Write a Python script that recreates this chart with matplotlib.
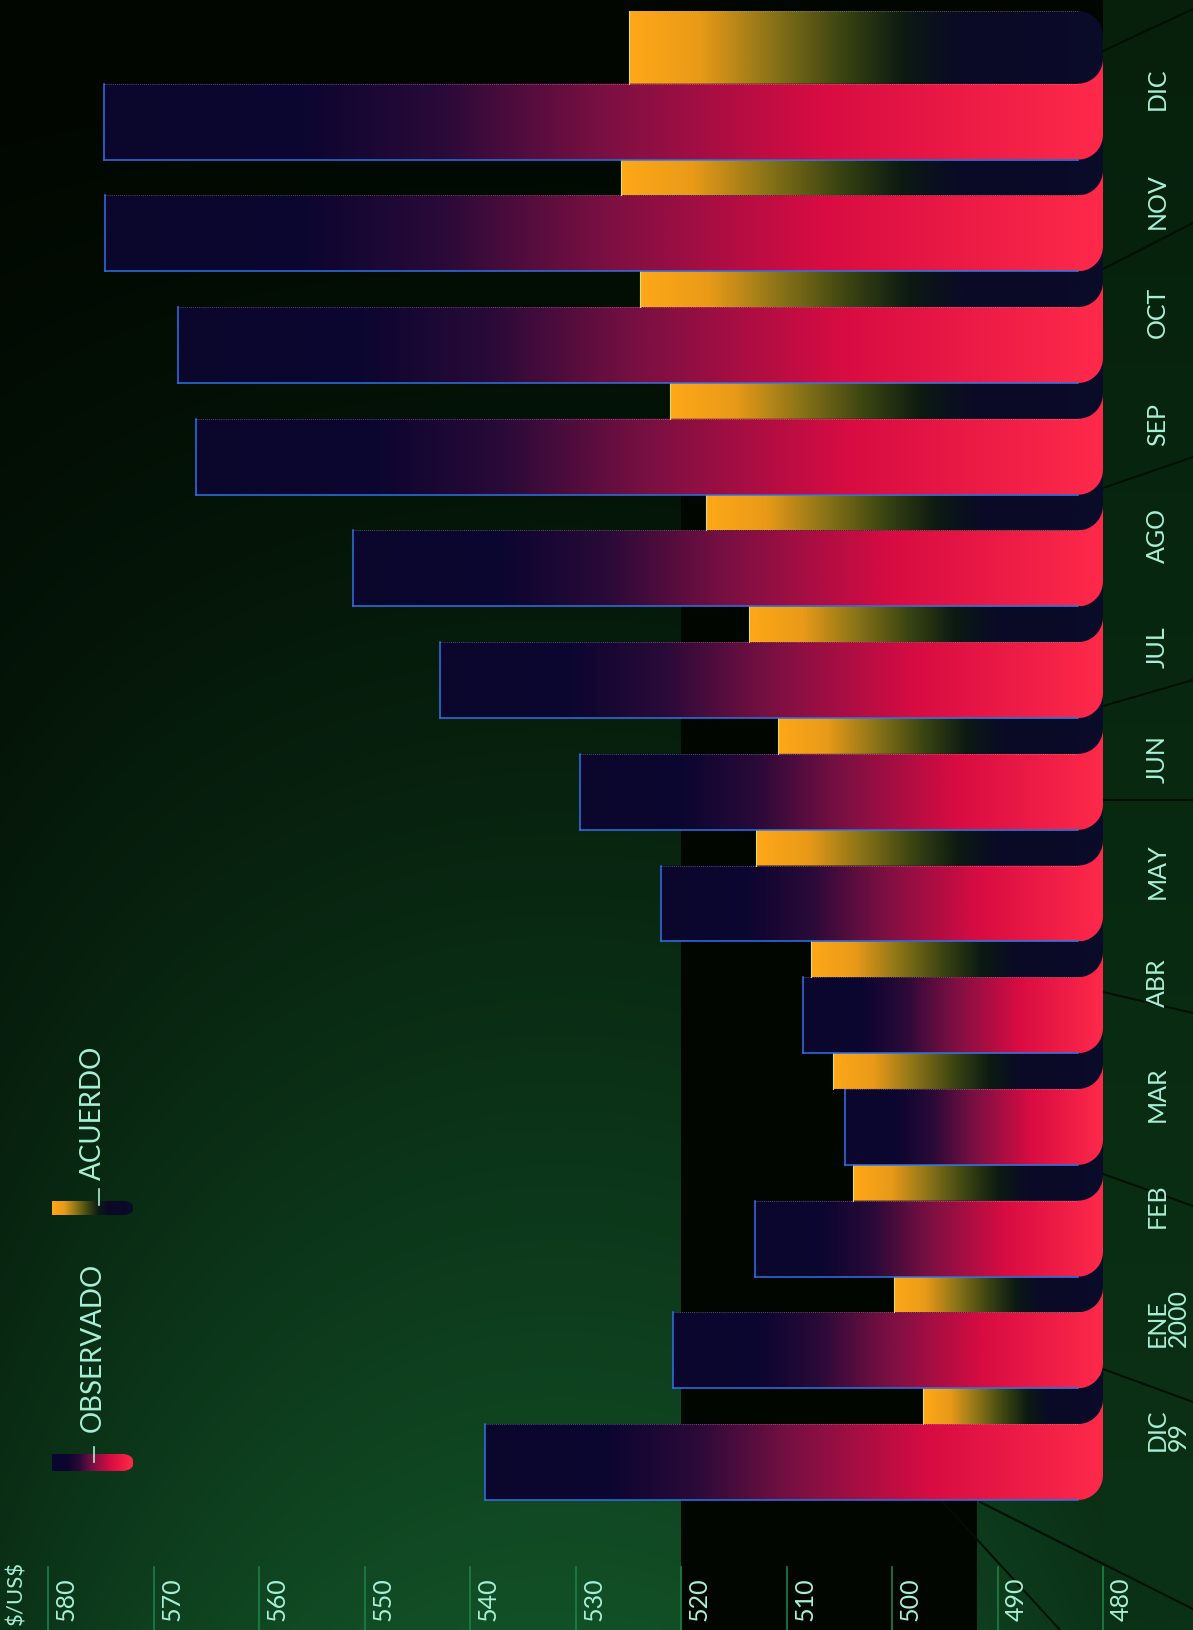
import numpy as np
import matplotlib.pyplot as plt
from matplotlib.colors import LinearSegmentedColormap, to_rgb
from matplotlib.patches import Polygon, Rectangle

# data (chart is printed rotated: values run right-to-left, months bottom-to-top)
months = ["DIC\n99", "ENE\n2000", "FEB", "MAR", "ABR", "MAY", "JUN",
          "JUL", "AGO", "SEP", "OCT", "NOV", "DIC"]
observado = [538.6, 520.8, 513.0, 504.5, 508.4, 521.9, 529.6,
             542.8, 551.1, 566.0, 567.7, 574.6, 574.7]
acuerdo = [497.1, 499.8, 503.7, 505.6, 507.7, 512.9, 510.8,
           513.6, 517.6, 521.0, 523.9, 525.7, 524.9]
ticks = list(range(480, 581, 10))
base = 480

obs_h = 0.68
acu_h = [0.32] * 12 + [0.65]

W, H = 1193, 1631
XL = (584.55, 471.47)
YL = (-1.504, 13.098)
txt_col = "#a8f0d8"
plt.rcParams["font.family"] = ["Lato", "DejaVu Sans"]

fig = plt.figure(figsize=(W / 100, H / 100), dpi=100)
ax = fig.add_axes([0, 0, 1, 1])


def dx(p):  # pixel -> data x
    return XL[0] + (XL[1] - XL[0]) * p / W


def dy(p):  # pixel -> data y
    return YL[1] - (YL[1] - YL[0]) * p / H


# background glow
gx, gy = np.meshgrid(np.linspace(0, W, 240), np.linspace(0, H, 320))
b = (gy / H) ** 1.3 * (1 - 0.5 * ((gx - 560) / 620) ** 2)
b = np.clip(b, 0, 1)[..., None]
dark, bright = np.array(to_rgb("#010600")), np.array(to_rgb("#125027"))
ax.imshow(dark + b * (bright - dark), extent=(XL[0], XL[1], YL[0], YL[1]),
          origin="upper", aspect="auto", zorder=0, interpolation="bilinear")

# right strip behind month labels
c_top, c_bot = np.array(to_rgb("#06200c")), np.array(to_rgb("#0b3216"))
strip = c_top + np.linspace(0, 1, 100)[:, None, None] * (c_bot - c_top)
ax.imshow(strip, extent=(base, XL[1], YL[0], YL[1]), origin="upper",
          aspect="auto", zorder=0.5, interpolation="bilinear")

# dark plane behind the bars
ax.add_patch(Rectangle((491.9, YL[0]), 520 - 491.9, 9.0 - YL[0],
                       facecolor="#010601", edgecolor="none", zorder=1))

# perspective lines on the right
for (x1, y1), (x2, y2) in [((1103, 52), (1193, 10)), ((1103, 270), (1193, 224)),
                           ((1103, 489), (1193, 458)), ((1103, 707), (1193, 681)),
                           ((1103, 801), (1193, 801)), ((1103, 993), (1193, 1014)),
                           ((1103, 1175), (1193, 1207)), ((1103, 1370), (1193, 1403)),
                           ((980, 1503), (1193, 1610)), ((940, 1500), (1060, 1631))]:
    ax.plot([dx(x1), dx(x2)], [dy(y1), dy(y2)], color="#020e05", lw=1.4, zorder=1.5)

obs_cmap = LinearSegmentedColormap.from_list("obs", [
    (0, "#ff2a4a"), (0.28, "#d80c42"), (0.5, "#7a1042"), (0.66, "#2a0a38"),
    (0.8, "#0c0630"), (1, "#0a062c")])
acu_cmap = LinearSegmentedColormap.from_list("acu", [
    (0, "#0a0a2a"), (0.3, "#0a0a26"), (0.42, "#0c1a12"), (0.55, "#3a4412"),
    (0.7, "#8a7418"), (0.85, "#e89a18"), (1, "#ffa818")])

rx = 25 / 10.55
ry = 25 / 111.7


def draw_bar(xb, xe, y0, y1, cmap, z, rx, ry, round_top=False, ext=True):
    pts = [(xe, y0)]
    t = np.radians(np.linspace(-90, -180, 14))
    pts += list(zip(xb + rx + rx * np.cos(t), y0 + ry + ry * np.sin(t)))
    top = y1
    if round_top:
        t = np.radians(np.linspace(180, 90, 14))
        pts += list(zip(xb + rx + rx * np.cos(t), y1 - ry + ry * np.sin(t)))
    elif ext:
        pts += [(xb, y1 + ry), (xb + rx, y1 + ry), (xb + rx, y1)]
        top = y1 + ry
    else:
        pts += [(xb, y1)]
    pts += [(xe, y1)]
    patch = Polygon(pts, closed=True, facecolor="none", edgecolor="none", zorder=z)
    ax.add_patch(patch)
    grad = cmap(np.linspace(0, 1, 256))[None, :, :3]
    im = ax.imshow(grad, extent=(xb, xe, y0, top), aspect="auto",
                   zorder=z, interpolation="bilinear")
    im.set_clip_path(patch)


z = 10
n = len(months)
for i in range(n):
    # observado bar
    y0, y1 = i - obs_h / 2, i + obs_h / 2
    draw_bar(base, observado[i], y0, y1, obs_cmap, z, rx, ry)
    ax.plot([observado[i], base + rx], [y0, y0], color="#3072e8", lw=1.1, zorder=z + 0.5)
    ax.plot([observado[i], observado[i]], [y0, y1], color="#3072e8", lw=1.1, zorder=z + 0.5)
    ax.plot([observado[i], base + rx], [y1, y1], color="#e0c0d0", lw=0.6,
            alpha=0.5, ls=(0, (1, 1.5)), zorder=z + 0.5)
    z += 1
    # acuerdo bar
    a0, a1 = y1, y1 + acu_h[i]
    last = i == n - 1
    draw_bar(base, acuerdo[i], a0, a1, acu_cmap, z, rx, ry, round_top=last)
    ax.plot([acuerdo[i], acuerdo[i]], [a0, a1], color="#d8e070", lw=0.8, zorder=z + 0.5)
    ax.plot([acuerdo[i], base + rx], [a1, a1], color="#e8d8a0", lw=0.6,
            alpha=0.5, ls=(0, (1, 1.5)), zorder=z + 0.5)
    z += 1

    ax.text(dx(1146), i + 0.3, months[i], rotation=90, ha="left", va="center",
            multialignment="left", color=txt_col, fontsize=18, linespacing=0.9, zorder=50)

# value axis (ticks along the bottom edge)
for t in ticks:
    ax.plot([t, t], [dy(1568), YL[0]], color="#1e8048", lw=1.2, zorder=40)
    ax.text(t - 7 / 10.55, dy(1621), str(t), rotation=90, ha="left", va="bottom",
            color=txt_col, fontsize=18, zorder=50)
ax.text(dx(6), dy(1625), r"\$/US\$", rotation=90, ha="left", va="bottom",
        color=txt_col, fontsize=16, zorder=50)

# legend
draw_bar(dx(133), dx(52), dy(1472), dy(1455), obs_cmap, 60, 1.0, 0.06, round_top=True)
draw_bar(dx(133), dx(52), dy(1216), dy(1202), acu_cmap, 60, 1.0, 0.05, round_top=True)
ax.plot([dx(94), dx(94)], [dy(1448), dy(1463)], color=txt_col, lw=1.2, zorder=60)
ax.plot([dx(99), dx(99)], [dy(1190), dy(1206)], color=txt_col, lw=1.2, zorder=60)
ax.text(dx(80), dy(1432), "OBSERVADO", rotation=90, ha="left", va="bottom",
        color=txt_col, fontsize=20, zorder=60)
ax.text(dx(80), dy(1180), "ACUERDO", rotation=90, ha="left", va="bottom",
        color=txt_col, fontsize=20, zorder=60)

ax.set_xlim(XL)
ax.set_ylim(YL)
ax.axis("off")
fig.savefig("out.png", dpi=100)
